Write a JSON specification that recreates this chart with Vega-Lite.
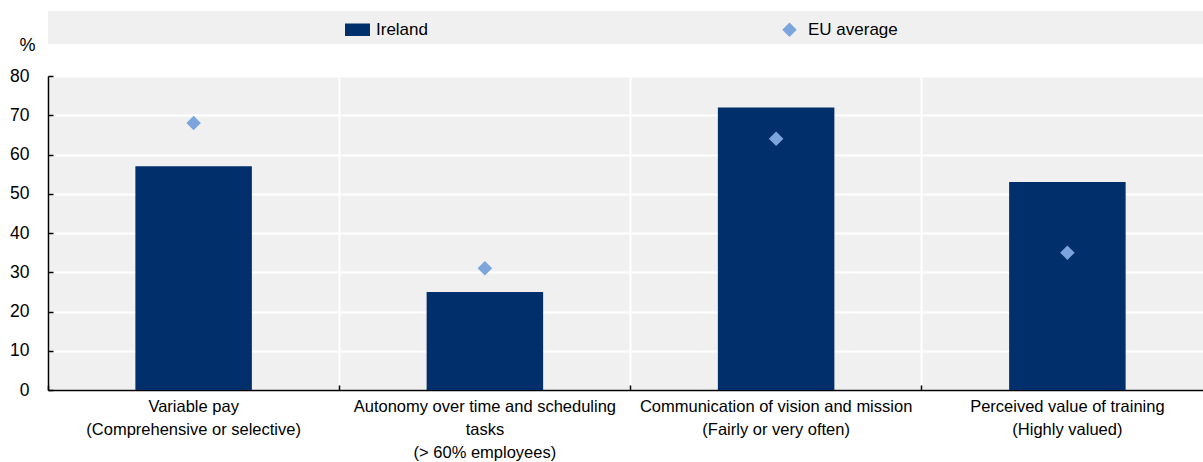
{
  "$schema": "https://vega.github.io/schema/vega-lite/v6.json",
  "width": 1165,
  "height": 314,
  "autosize": {"type": "none"},
  "padding": {"left": 48, "top": 76, "right": 0, "bottom": 72},
  "background": "white",
  "config": {
    "font": "Liberation Sans Narrow, Arial Narrow, Liberation Sans, sans-serif",
    "view": {"fill": "#f0f0f0", "stroke": null},
    "axis": {"labelFont": "Liberation Sans Narrow, Arial Narrow, Liberation Sans, sans-serif", "labelFontSize": 17.5, "labelColor": "#000000", "titleFont": "Liberation Sans Narrow, Arial Narrow, Liberation Sans, sans-serif"}
  },
  "data": {
    "values": [
      {"category": "Variable pay|(Comprehensive or selective)", "series": "Ireland", "value": 57},
      {"category": "Autonomy over time and scheduling|tasks|(> 60% employees)", "series": "Ireland", "value": 25},
      {"category": "Communication of vision and mission|(Fairly or very often)", "series": "Ireland", "value": 72},
      {"category": "Perceived value of training|(Highly valued)", "series": "Ireland", "value": 53},
      {"category": "Variable pay|(Comprehensive or selective)", "series": "EU average", "value": 68},
      {"category": "Autonomy over time and scheduling|tasks|(> 60% employees)", "series": "EU average", "value": 31},
      {"category": "Communication of vision and mission|(Fairly or very often)", "series": "EU average", "value": 64},
      {"category": "Perceived value of training|(Highly valued)", "series": "EU average", "value": 35}
    ]
  },
  "encoding": {
    "y": {
      "field": "value",
      "type": "quantitative",
      "scale": {"domain": [0, 80]},
      "axis": {
        "values": [0, 10, 20, 30, 40, 50, 60, 70, 80],
        "title": "%",
        "titleAngle": 0,
        "titleX": -21,
        "titleY": -26,
        "titleAlign": "center",
        "titleBaseline": "alphabetic",
        "titleFontSize": 18,
        "titleFontWeight": "normal",
        "titleColor": "#000000",
        "domainColor": "#000000",
        "domainWidth": 1.5,
        "tickColor": "#000000",
        "tickSize": -5,
        "tickWidth": 1.5,
        "labelPadding": 24,
        "gridColor": "#ffffff",
        "gridWidth": 2,
        "gridOpacity": 1
      }
    }
  },
  "layer": [
    {
      "transform": [{"filter": "datum.series === 'Ireland'"}],
      "mark": {"type": "bar", "width": {"band": 0.4}},
      "encoding": {
        "x": {
          "field": "category",
          "type": "nominal",
          "sort": null,
          "scale": {"paddingInner": 0, "paddingOuter": 0},
          "axis": {
            "orient": "bottom",
            "title": null,
            "labelAngle": 0,
            "labelExpr": "split(datum.label, '|')",
            "labelFontSize": 16.5,
            "labelLineHeight": 23,
            "labelPadding": 8,
            "labelLimit": 400,
            "ticks": false,
            "grid": false,
            "domainColor": "#000000",
            "domainWidth": 1.5
          }
        },
        "color": {
          "field": "series",
          "type": "nominal",
          "scale": {"domain": ["Ireland", "EU average"], "range": ["#002f6c", "#7ba5dc"]},
          "legend": {
            "title": " ",
            "titleOrient": "right",
            "titlePadding": 330,
            "titleFontSize": 10,
            "orient": "none",
            "direction": "horizontal",
            "legendX": 0,
            "legendY": -65,
            "fillColor": "#f0f0f0",
            "padding": 6,
            "symbolOffset": 291,
            "columnPadding": 58,
            "labelOffset": 6,
            "labelFontSize": 17,
            "labelColor": "#000000",
            "labelFont": "Liberation Sans Narrow, Arial Narrow, Liberation Sans, sans-serif",
            "symbolSize": 625,
            "symbolStrokeWidth": 0
          }
        }
      }
    },
    {
      "transform": [{"filter": "datum.series === 'EU average'"}],
      "mark": {"type": "point", "filled": true, "opacity": 1, "size": 625},
      "encoding": {
        "x": {
          "field": "category",
          "type": "nominal",
          "sort": null,
          "axis": {
            "orient": "bottom",
            "title": null,
            "bandPosition": 0,
            "labels": false,
            "domain": false,
            "ticks": true,
            "tickSize": -5,
            "tickColor": "#000000",
            "tickWidth": 1.5,
            "grid": true,
            "gridColor": "#ffffff",
            "gridWidth": 2,
            "gridOpacity": 1
          }
        },
        "color": {"field": "series", "type": "nominal"},
        "shape": {
          "field": "series",
          "type": "nominal",
          "scale": {"domain": ["Ireland", "EU average"], "range": ["M-1,-0.5H1V0.5H-1Z", "M0,-0.58L0.58,0L0,0.58L-0.58,0Z"]}
        }
      }
    }
  ],
  "resolve": {"axis": {"x": "independent"}}
}
